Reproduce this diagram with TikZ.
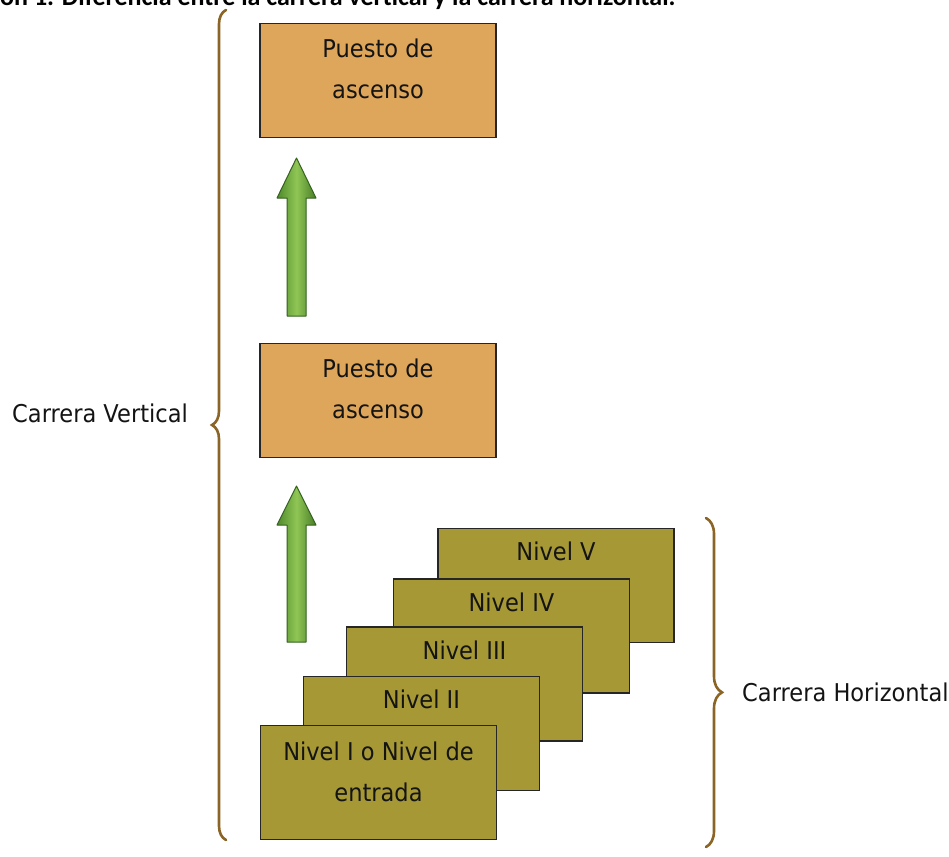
\documentclass[tikz,border=0pt]{standalone}
\usepackage{fontspec}
\newfontfamily\lblfont[FakeStretch=0.92]{DejaVu Sans}
\newfontfamily\capfont{Carlito}
\usetikzlibrary{decorations.pathreplacing}
\definecolor{boxorange}{HTML}{DEA65B}
\definecolor{boxolive}{HTML}{A69834}
\definecolor{bracebrown}{HTML}{8B6526}
\definecolor{gdark}{HTML}{4F8A2C}
\definecolor{glight}{HTML}{8FC654}
\definecolor{gedge}{HTML}{35621F}
\definecolor{txtdark}{HTML}{141414}
\tikzset{
  boxbase/.style={draw=black!85, line width=1.7pt, minimum width=236pt, minimum height=114pt, inner sep=0pt},
  puesto/.style={boxbase, fill=boxorange},
  nivel/.style={boxbase, fill=boxolive},
  lbl/.style={font=\lblfont\fontsize{24.5}{41}\selectfont, text=txtdark, align=center, inner sep=0pt},
  sidelbl/.style={font=\lblfont\fontsize{24.5}{28}\selectfont, text=txtdark, inner sep=0pt},
  bracestyle/.style={draw=bracebrown, line width=2.6pt, line cap=round, decorate},
  greenarrow/.style={left color=gdark, right color=gdark!90!black, middle color=glight, draw=gedge, line width=1pt, line join=round}
}
\newcommand{\upgarrow}[4]{% x, tip y, head base y, bottom y
  \path[greenarrow] (#1-9.5,#4) -- (#1-9.5,#3) -- (#1-19.5,#3) -- (#1,#2) -- (#1+19.5,#3) -- (#1+9.5,#3) -- (#1+9.5,#4) -- cycle;
}
\begin{document}
\begin{tikzpicture}[x=1pt,y=-1pt]
\clip (0,0) rectangle (949,856);
\fill[white] (0,0) rectangle (949,856);

% caption (cut off at top, as in the reference)
\node[anchor=base west, inner sep=0pt, font=\capfont\bfseries\fontsize{26}{30}\selectfont] (cap) at (0,6) {ón 1. Diferencia entre la carrera vertical y la carrera horizontal.};

% promotion boxes
\node[puesto, label={[lbl, anchor=center, yshift=-46pt]north:Puesto de\\ascenso}] (p1) at (378,80.5) {};
\node[puesto, label={[lbl, anchor=center, yshift=-46pt]north:Puesto de\\ascenso}] (p2) at (378,400.5) {};

% green arrows
\upgarrow{296.5}{158}{198}{316}
\upgarrow{296.5}{486}{525}{642}

% levels (back to front)
\node[nivel, label={[lbl, anchor=center, yshift=-24pt]north:Nivel V}] (n5) at (556,585.5) {};
\node[nivel, label={[lbl, anchor=center, yshift=-24pt]north:Nivel IV}] (n4) at (511.5,636) {};
\node[nivel, label={[lbl, anchor=center, yshift=-24pt]north:Nivel III}] (n3) at (464.5,684) {};
\node[nivel, label={[lbl, anchor=center, yshift=-24pt]north:Nivel II}] (n2) at (421.5,733.5) {};
\node[nivel, label={[lbl, anchor=center, yshift=-47pt]north:Nivel I o Nivel de\\entrada}] (n1) at (378.5,782.5) {};

% braces
\coordinate (lbB) at (226,840);
\coordinate (lbT) at (226,10);
\draw[bracestyle, decoration={brace, amplitude=14pt}] (lbB) -- (lbT);
\coordinate (rbT) at (706,518);
\coordinate (rbB) at (706,847);
\draw[bracestyle, decoration={brace, amplitude=16pt, aspect=0.53}] (rbT) -- (rbB);

% side labels
\node[sidelbl, anchor=west] (cv) at (12,413) {Carrera Vertical};
\node[sidelbl, anchor=west] (ch) at (742,692) {Carrera Horizontal};
\end{tikzpicture}
\end{document}
